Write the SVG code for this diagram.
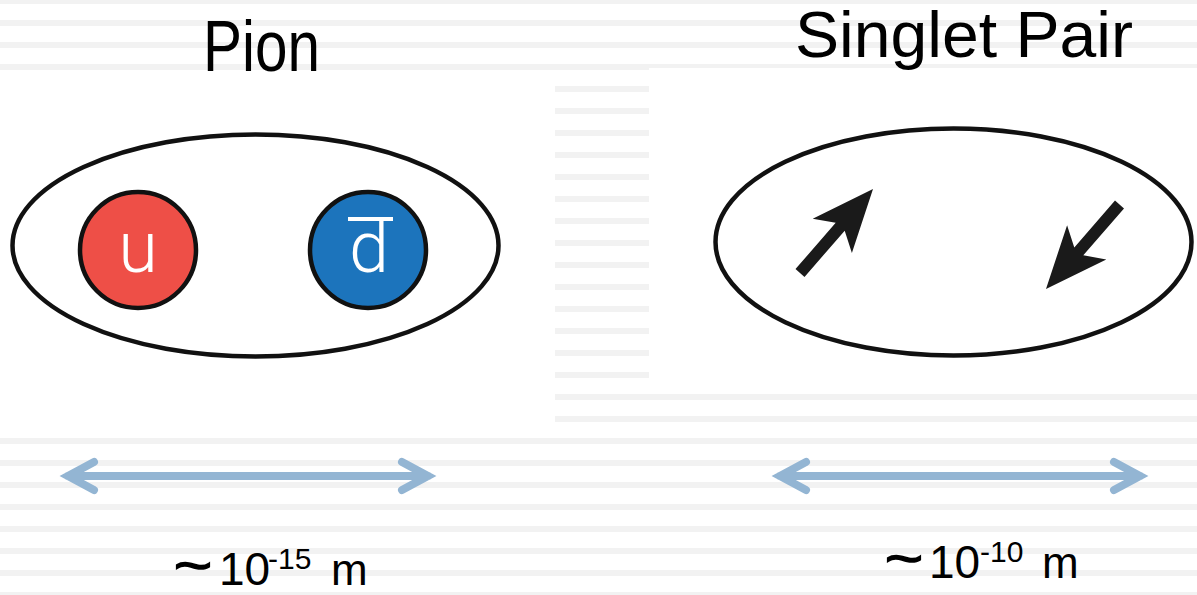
<svg xmlns="http://www.w3.org/2000/svg" width="1197" height="595" viewBox="0 0 1197 595">
  <style>
    .title { font-family: "Comic Sans MS", "Liberation Sans", sans-serif; fill: #000; }
    .scale { font-family: "Comic Sans MS", "Liberation Sans", sans-serif; fill: #000; }
    .tilde { stroke: #000; stroke-width: 1.6; }
    .quark { font-family: Roboto, "Liberation Sans", sans-serif; font-weight: 300; fill: #fff; text-anchor: middle; }
    .shell { fill: #fff; stroke: #111; stroke-width: 4.5; }
    .bar { fill: none; stroke: #93b5d3; stroke-width: 8; stroke-linecap: round; stroke-linejoin: miter; stroke-miterlimit: 10; }
    .spin { fill: #1a1a1a; }
  </style>
  <defs>
    <!-- ruled-paper background stripes -->
    <pattern id="rules" x="0" y="-2" width="1197" height="22" patternUnits="userSpaceOnUse">
      <rect x="0" y="0" width="1197" height="6" fill="#f2f2f2"/>
    </pattern>
  </defs>

  <rect width="1197" height="595" fill="#fff"/>
  <rect width="1197" height="595" fill="url(#rules)"/>

  <!-- white panels behind the two drawings -->
  <rect x="0" y="70" width="555" height="362" fill="#fff"/>
  <rect x="649" y="68" width="548" height="322" fill="#fff"/>

  <!-- titles -->
  <text class="title" x="203" y="71" font-size="72" textLength="117" lengthAdjust="spacingAndGlyphs">Pion</text>
  <text class="title" x="795" y="57" font-size="65" textLength="338" lengthAdjust="spacingAndGlyphs">Singlet Pair</text>

  <!-- pion: u and anti-d quarks -->
  <g id="pion">
    <ellipse class="shell" cx="255.5" cy="245.5" rx="243" ry="111"/>
    <g id="quark-u">
      <circle cx="138" cy="250" r="58" fill="#ee4f47" stroke="#111" stroke-width="4.5"/>
      <text class="quark" x="138" y="272" font-size="72">u</text>
    </g>
    <g id="quark-dbar">
      <circle cx="368" cy="250" r="58" fill="#1c74bc" stroke="#111" stroke-width="4.5"/>
      <text class="quark" x="369" y="272" font-size="72">d</text>
      <rect x="348" y="217" width="45" height="4" fill="#fff"/>
    </g>
  </g>

  <!-- singlet pair: two opposite spins -->
  <g id="singlet">
    <ellipse class="shell" cx="953.5" cy="242" rx="238" ry="113.5"/>
    <polygon id="spin-up" class="spin" points="795.5,269.1 835.7,222.8 812.7,218.7 873,189 851.9,252.9 844.7,230.7 804.5,276.9"/>
    <polygon id="spin-down" class="spin" points="1115,200.6 1074.3,247.4 1067.1,225.2 1046,289 1106.3,259.4 1083.3,255.2 1124,208.4"/>
  </g>

  <!-- size scale bars -->
  <g id="connectors">
    <path class="bar" d="M68,476 H428 M94,462 L68,476 L94,490 M402,462 L428,476 L402,490"/>
    <path class="bar" d="M780,476 H1140 M806,462 L780,476 L806,490 M1114,462 L1140,476 L1114,490"/>
  </g>

  <!-- size labels -->
  <g id="label-pion-size">
    <text class="scale tilde" x="174" y="583" font-size="50" textLength="38" lengthAdjust="spacingAndGlyphs">~</text>
    <text class="scale" x="219" y="585" font-size="46">10</text>
    <text class="scale" x="268" y="569" font-size="30">-15</text>
    <text class="scale" x="331" y="585" font-size="44">m</text>
  </g>
  <g id="label-singlet-size">
    <text class="scale tilde" x="885" y="576" font-size="50" textLength="38" lengthAdjust="spacingAndGlyphs">~</text>
    <text class="scale" x="929" y="578" font-size="46">10</text>
    <text class="scale" x="980" y="562" font-size="30">-10</text>
    <text class="scale" x="1042" y="578" font-size="44">m</text>
  </g>
</svg>
